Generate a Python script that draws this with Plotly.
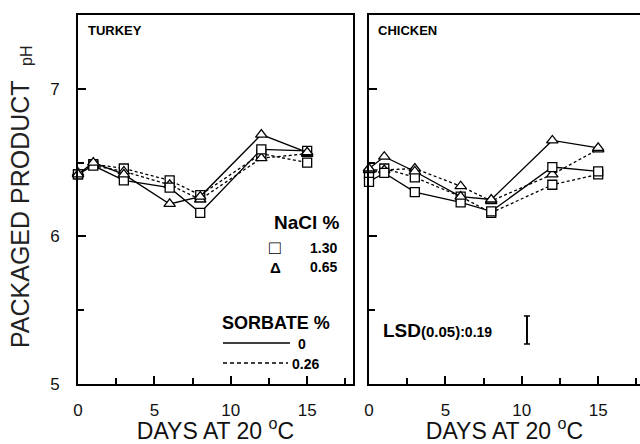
import plotly.graph_objects as go

W, H = 640, 444

days = [0, 1, 3, 6, 8, 12, 15]

# Turkey
turkey_sq_0 = [6.42, 6.48, 6.38, 6.33, 6.16, 6.59, 6.58]
turkey_tri_0 = [6.42, 6.50, 6.42, 6.22, 6.27, 6.69, 6.57]
turkey_sq_026 = [6.42, 6.49, 6.46, 6.38, 6.28, 6.56, 6.50]
turkey_tri_026 = [6.43, 6.48, 6.44, 6.35, 6.25, 6.53, 6.56]

# Chicken
chicken_sq_0 = [6.37, 6.43, 6.30, 6.23, 6.17, 6.47, 6.44]
chicken_tri_0 = [6.46, 6.54, 6.44, 6.27, 6.25, 6.65, 6.60]
chicken_sq_026 = [6.42, 6.46, 6.40, 6.27, 6.16, 6.35, 6.42]
chicken_tri_026 = [6.45, 6.45, 6.46, 6.34, 6.24, 6.42, 6.59]

lsd_value = 0.19
lsd_center = (10.34, 5.366)

y_ticks = [5, 6, 7]
x_ticks = [0, 5, 10, 15]
x_title = "DAYS AT 20 <sup>o</sup>C"

FONT = "Liberation Sans"
DASH = "3px,2.5px"


def px(x):
    return x / W


def py(y):
    return 1 - y / H


fig = go.Figure()


def add_series(xa, ya, vals, symbol, dash):
    fig.add_trace(go.Scatter(
        x=days, y=vals, xaxis=xa, yaxis=ya, mode="lines+markers",
        line=dict(color="black", width=1.3, dash=dash),
        marker=dict(symbol=symbol, size=9 if "square" in symbol else 10,
                    color="white", line=dict(color="black", width=1.3)),
        showlegend=False, cliponaxis=False))


for xa, ya, s0, t0, s26, t26 in [
    ("x", "y", turkey_sq_0, turkey_tri_0, turkey_sq_026, turkey_tri_026),
    ("x2", "y2", chicken_sq_0, chicken_tri_0, chicken_sq_026, chicken_tri_026),
]:
    add_series(xa, ya, s26, "square", DASH)
    add_series(xa, ya, t26, "triangle-up", DASH)
    add_series(xa, ya, s0, "square", "solid")
    add_series(xa, ya, t0, "triangle-up", "solid")

axis_common = dict(showline=True, linecolor="black", linewidth=2, ticks="inside",
                   ticklen=8, tickwidth=1.5, tickcolor="black", showgrid=False,
                   zeroline=False, automargin=False,
                   tickfont=dict(family=FONT, size=17, color="#111"))

title_font = dict(family=FONT, size=23, color="#111")

ydom = [60 / H, 429 / H]
left_dom = [78 / W, 353 / W]
right_dom = [369 / W, 1.0]
xr_left = [0, 18]
xr_right = [0, (640 - 369) / (275 / 18)]

fig.update_layout(
    width=W, height=H, margin=dict(l=0, r=0, t=0, b=0),
    paper_bgcolor="white", plot_bgcolor="white",
    xaxis=dict(domain=left_dom, range=xr_left, anchor="y", mirror=True,
               tickvals=x_ticks, minor=dict(ticks="inside", ticklen=6, dtick=2.5, tick0=0, tickcolor="black"),
               ticklabelstandoff=10,
               title=dict(text=x_title, font=title_font, standoff=12),
               **axis_common),
    yaxis=dict(domain=ydom, range=[5, 7.5], anchor="x", mirror=True,
               tickvals=y_ticks, minor=dict(ticks="inside", ticklen=6, dtick=0.5, tick0=5, tickcolor="black"),
               ticklabelstandoff=13, **axis_common),
    xaxis2=dict(domain=right_dom, range=xr_right, anchor="y2", mirror=True,
                tickvals=x_ticks, minor=dict(ticks="inside", ticklen=6, dtick=2.5, tick0=0, tickcolor="black"),
                ticklabelstandoff=10,
                title=dict(text=x_title, font=title_font, standoff=12),
                **axis_common),
    yaxis2=dict(domain=ydom, range=[5, 7.5], anchor="x2", mirror=False,
                tickvals=y_ticks, showticklabels=False,
                minor=dict(ticks="inside", ticklen=6, dtick=0.5, tick0=5, tickcolor="black"),
                **axis_common),
)

anns = []


def ann(text, x, y, size, xanchor="left", bold=True, angle=0, color="black"):
    t = f"<b>{text}</b>" if bold else text
    anns.append(dict(x=px(x), y=py(y), xref="paper", yref="paper", text=t,
                     showarrow=False, xanchor=xanchor, yanchor="middle",
                     textangle=angle,
                     font=dict(family=FONT, size=size, color=color)))


# Panel titles
ann("TURKEY", 86, 31, 13)
ann("CHICKEN", 376, 31, 13)

# Y title
ann("PACKAGED PRODUCT", 20, 214, 25, xanchor="center", bold=False, angle=-90, color="#222")
ann("pH", 26, 56, 16, xanchor="center", bold=False, angle=-90, color="#222")

# Legend
ann("NaCl %", 272, 222, 19)
ann("□", 275, 247, 19, xanchor="center")
ann("1.30", 308, 248, 14)
ann("Δ", 275, 267, 15, xanchor="center")
ann("0.65", 308, 267, 14)
ann("SORBATE %", 220, 323, 18)
ann("0", 296, 344, 14)
ann("0.26", 290, 364, 14)

# LSD
ann("LSD<span style='font-size:15px'>(0.05)</span><span style='font-size:14px'>:0.19</span>",
    381, 330, 19)

fig.update_layout(annotations=anns)

shapes = [
    dict(type="line", xref="paper", yref="paper", x0=px(223), x1=px(290), y0=py(343), y1=py(343),
         line=dict(color="black", width=1.5)),
    dict(type="line", xref="paper", yref="paper", x0=px(223), x1=px(288), y0=py(363), y1=py(363),
         line=dict(color="black", width=1.5, dash="4px,3px")),
]
lx, ly = lsd_center
lo, hi = ly - lsd_value / 2, ly + lsd_value / 2
shapes.append(dict(type="line", xref="x2", yref="y2", x0=lx, x1=lx, y0=lo, y1=hi,
                   line=dict(color="black", width=2)))
for yy in (lo, hi):
    shapes.append(dict(type="line", xref="x2", yref="y2", x0=lx - 0.2, x1=lx + 0.2, y0=yy, y1=yy,
                       line=dict(color="black", width=1.5)))
fig.update_layout(shapes=shapes)

fig.write_html("out.html")
